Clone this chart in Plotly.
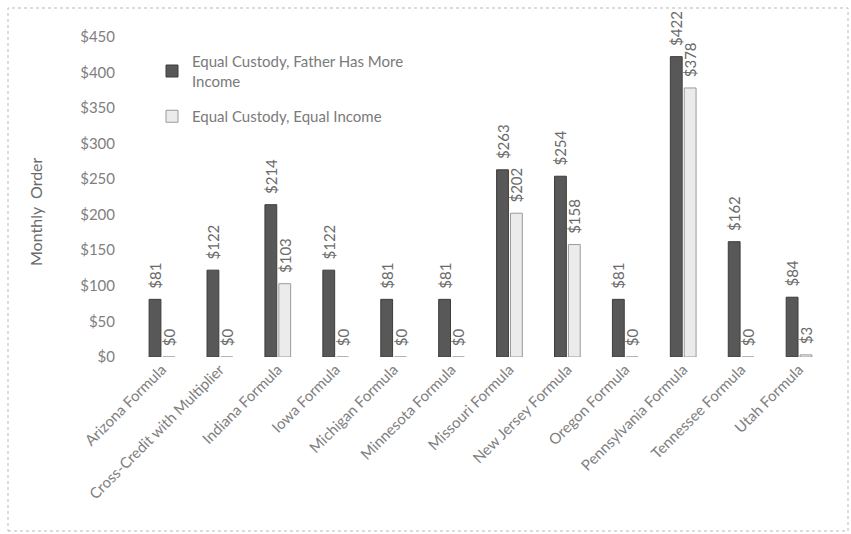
import plotly.graph_objects as go

categories = ["Arizona Formula", "Cross-Credit with Multiplier", "Indiana Formula", "Iowa Formula",
              "Michigan Formula", "Minnesota Formula", "Missouri Formula", "New Jersey Formula",
              "Oregon Formula", "Pennsylvania Formula", "Tennessee Formula", "Utah Formula"]
father_more = [81, 122, 214, 122, 81, 81, 263, 254, 81, 422, 162, 84]
equal_income = [0, 0, 103, 0, 0, 0, 202, 158, 0, 378, 0, 3]
series_names = ["Equal Custody, Father Has More<br>Income", "Equal Custody, Equal Income"]
y_ticks = [0, 50, 100, 150, 200, 250, 300, 350, 400, 450]

FONT = "Lato"
GRAY = "#808080"
PAD = "\u00a0\u00a0"

fig = go.Figure()
fig.add_trace(go.Bar(
    x=categories, y=father_more, name=series_names[0],
    marker=dict(color="#585858", line=dict(color="#3c3c3c", width=1)),
    text=[f"{PAD}${v}" for v in father_more], textposition="outside", textangle=-90,
    constraintext="none",
    textfont=dict(family=FONT, size=15, color="#6a6a6a"), cliponaxis=False,
    legendgroup="a",
))
fig.add_trace(go.Bar(
    x=categories, y=equal_income, name=series_names[1],
    marker=dict(color="#ebebeb", line=dict(color="#9a9a9a", width=1)),
    text=[f"{PAD}${v}" for v in equal_income], textposition="outside", textangle=-90,
    constraintext="none",
    textfont=dict(family=FONT, size=15, color="#6a6a6a"), cliponaxis=False,
    legendgroup="b",
))

L, R, T, B = 133, 23, 36, 177
W, H = 851, 534
pw, ph = W - L - R, H - T - B

fig.update_layout(
    width=W, height=H,
    margin=dict(l=L, r=R, t=T, b=B, pad=0),
    paper_bgcolor="white", plot_bgcolor="white",
    barmode="group", bargap=0.52, bargroupgap=0.15,
    font=dict(family=FONT, size=15, color=GRAY),
    showlegend=True,
    legend=dict(x=(152 - L) / pw, y=(H - B - 45) / ph, xanchor="left", yanchor="top",
                bgcolor="rgba(0,0,0,0)", font=dict(family=FONT, size=15, color="#7a7a7a"),
                traceorder="grouped", tracegroupgap=13, itemwidth=30),
    xaxis=dict(tickangle=-45, showgrid=False, showline=False, ticks="",
               tickfont=dict(family=FONT, size=15, color=GRAY)),
    yaxis=dict(range=[0, 451], tickvals=y_ticks, ticktext=[f"${v}" for v in y_ticks],
               showgrid=False, showline=False, zeroline=False,
               ticks="outside", ticklen=14, tickcolor="rgba(0,0,0,0)",
               tickfont=dict(family=FONT, size=15, color=GRAY)),
    annotations=[dict(text="Monthly  Order", textangle=-90, showarrow=False,
                      xref="paper", yref="paper", x=(35 - L) / pw, y=(H - B - 212) / ph,
                      xanchor="center", yanchor="middle",
                      font=dict(family=FONT, size=16, color="#6a6a6a"))],
    shapes=[dict(type="rect", xref="paper", yref="paper",
                 x0=(8 - L) / pw, x1=(848 - L) / pw,
                 y0=(H - B - 531) / ph, y1=(H - B - 8) / ph,
                 line=dict(color="#bbbbbb", width=1, dash="dot"))],
)

fig.write_html("out.html")
